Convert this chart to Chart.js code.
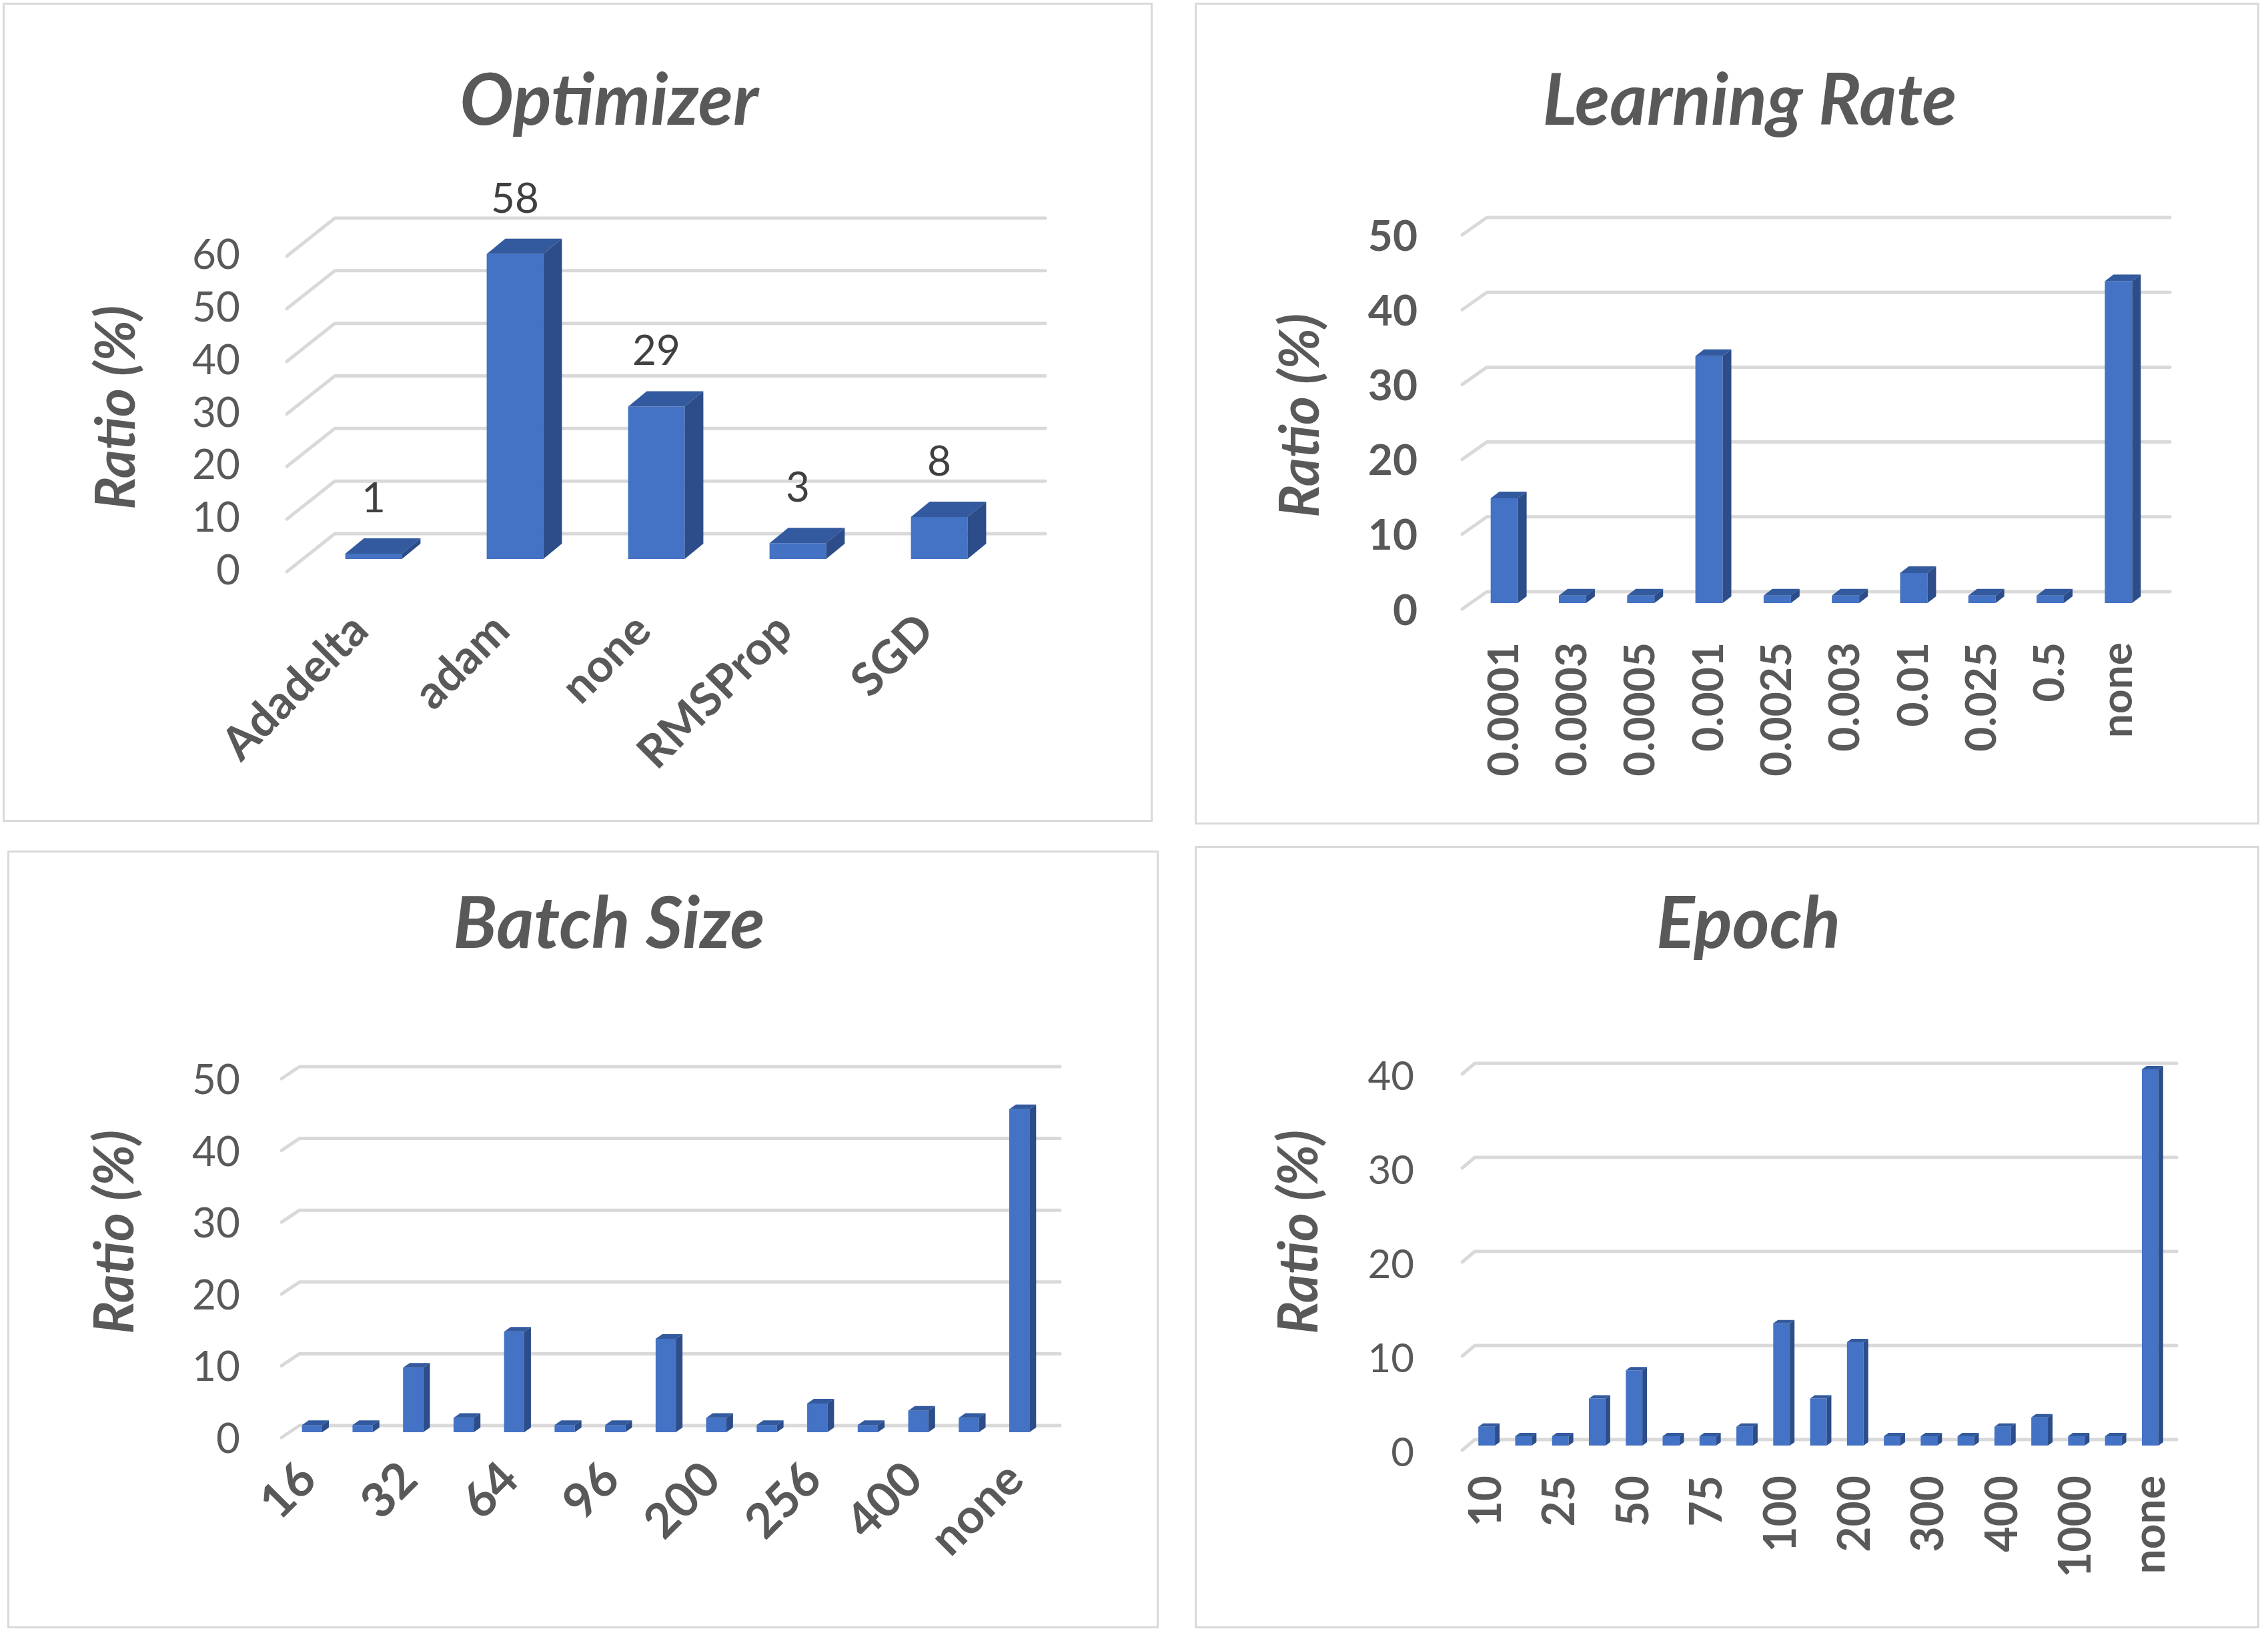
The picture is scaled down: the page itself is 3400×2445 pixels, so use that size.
<!DOCTYPE html>
<html>
<head>
<meta charset="utf-8">
<script src="https://cdn.jsdelivr.net/npm/chart.js@4.4.0/dist/chart.umd.min.js"></script>
<style>
	body { margin: 0; background: #fff; width: 3400px; height: 2445px; position: relative; overflow: hidden; }
	.frame { position: absolute; box-sizing: border-box; border: 3px solid #d9d9d9; }
	canvas { position: absolute; }
</style>
</head>
<body>
<script>
// chart values
const optimizerLabels = ["Adadelta", "adam", "none", "RMSProp", "SGD"];
const optimizerValues = [1, 58, 29, 3, 8];

const lrLabels = ["0.0001", "0.0003", "0.0005", "0.001", "0.0025", "0.003", "0.01", "0.025", "0.5", "none"];
const lrValues = [14, 1, 1, 33, 1, 1, 4, 1, 1, 43];

// every other label is hidden in the picture, the hidden names are guesses
const batchLabels = ["16", "20", "32", "50", "64", "80", "96", "128", "200", "250", "256", "300", "400", "500", "none"];
const batchValues = [1, 1, 9, 2, 14, 1, 1, 13, 2, 1, 4, 1, 3, 2, 45];

const epochLabels = ["10", "20", "25", "30", "50", "60", "75", "80", "100", "150", "200", "250", "300", "350", "400", "500", "1000", "2000", "none"];
const epochValues = [2, 1, 1, 5, 8, 1, 1, 2, 13, 5, 11, 1, 1, 1, 2, 3, 1, 1, 40];

const FRONT = "#4472C4", TOP = "#335A9E", SIDE = "#2C4D89";
const GRID = "#d9d9d9", TEXT = "#595959", FONT = "Lato";

// floor + back wall lines of the 3d column chart
const grid3d = {
	id: "grid3d",
	beforeDatasetsDraw(chart, args, o) {
		const ctx = chart.ctx, ys = chart.scales.y;
		ctx.save();
		ctx.strokeStyle = GRID;
		ctx.lineWidth = 5;
		ctx.lineCap = "round";
		ctx.lineJoin = "round";
		ys.ticks.forEach(t => {
			const y = ys.getPixelForValue(t.value);
			ctx.beginPath();
			ctx.moveTo(o.fx, y + o.fo);
			ctx.lineTo(o.bx, y + o.bo);
			ctx.lineTo(o.ex, y + o.bo);
			ctx.stroke();
		});
		ctx.restore();
	}
};

// top and side faces of each column, plus value labels
const bars3d = {
	id: "bars3d",
	afterDatasetsDraw(chart, args, o) {
		const ctx = chart.ctx;
		const meta = chart.getDatasetMeta(0);
		const values = chart.data.datasets[0].data;
		ctx.save();
		meta.data.forEach((bar, i) => {
			const p = bar.getProps(["x", "y", "base", "width"], true);
			const l = p.x - p.width / 2, r = p.x + p.width / 2;
			ctx.fillStyle = TOP;
			ctx.beginPath();
			ctx.moveTo(l, p.y);
			ctx.lineTo(l + o.dx, p.y - o.dy);
			ctx.lineTo(r + o.dx, p.y - o.dy);
			ctx.lineTo(r, p.y);
			ctx.closePath();
			ctx.fill();
			ctx.fillStyle = SIDE;
			ctx.beginPath();
			ctx.moveTo(r, p.y);
			ctx.lineTo(r + o.dx, p.y - o.dy);
			ctx.lineTo(r + o.dx, p.base - o.dy);
			ctx.lineTo(r, p.base);
			ctx.closePath();
			ctx.fill();
			if (o.showValues) {
				ctx.fillStyle = "#404040";
				ctx.font = "62px " + FONT;
				ctx.textAlign = "center";
				ctx.textBaseline = "middle";
				ctx.fillText(String(values[i]), p.x, p.y - o.gap);
			}
		});
		ctx.restore();
	}
};

// chart title and rotated y axis title
const titles = {
	id: "titles",
	afterDraw(chart, args, o) {
		const ctx = chart.ctx;
		ctx.save();
		ctx.fillStyle = TEXT;
		ctx.textAlign = "center";
		ctx.textBaseline = "middle";
		ctx.font = "italic bold 107px " + FONT;
		ctx.fillText(o.title, o.tx, o.ty);
		ctx.translate(o.ax, o.ay);
		ctx.rotate(-Math.PI / 2);
		ctx.font = "italic bold 82px " + FONT;
		ctx.fillText("Ratio (%)", 0, 0);
		ctx.restore();
	}
};

function makePanel(p) {
	const frame = document.createElement("div");
	frame.className = "frame";
	Object.assign(frame.style, { left: p.x + "px", top: p.y + "px", width: p.w + "px", height: p.h + "px" });
	document.body.appendChild(frame);

	const cv = document.createElement("canvas");
	cv.width = p.w;
	cv.height = p.h;
	cv.style.left = p.x + "px";
	cv.style.top = p.y + "px";
	document.body.appendChild(cv);

	const a = p.area;

	return new Chart(cv, {
		type: "bar",
		data: {
			labels: p.labels,
			datasets: [{
				data: p.values,
				backgroundColor: FRONT,
				barPercentage: p.barPct,
				categoryPercentage: 1
			}]
		},
		options: {
			responsive: false,
			animation: false,
			devicePixelRatio: 1,
			layout: { padding: { left: 0, right: p.w - a.right, top: a.top, bottom: 0 } },
			plugins: {
				legend: { display: false },
				tooltip: { enabled: false },
				title: { display: false },
				grid3d: p.grid,
				bars3d: { dx: p.depth[0], dy: p.depth[1], showValues: !!p.showValues, gap: 82 },
				titles: { title: p.title, tx: p.titleX, ty: p.titleY, ax: p.axisTitle[0], ay: p.axisTitle[1] }
			},
			scales: {
				x: {
					grid: { display: false, drawTicks: false },
					border: { display: false },
					afterFit: s => { s.height = p.h - a.bottom; },
					ticks: {
						autoSkip: false,
						minRotation: p.rot,
						maxRotation: p.rot,
						padding: p.xPad,
						labelOffset: p.xOff,
						color: TEXT,
						font: { family: FONT, size: p.xFont, weight: "bold" },
						callback: function (v, i) {
							return i % p.every === 0 ? this.getLabelForValue(v) : "";
						}
					}
				},
				y: {
					min: 0,
					max: p.ymax,
					grid: { display: false, drawTicks: false },
					border: { display: false },
					afterFit: s => { s.width = a.left; },
					ticks: {
						stepSize: 10,
						padding: p.yPad,
						labelOffset: p.yOff,
						color: TEXT,
						font: { family: FONT, size: p.yFont, weight: p.yBold ? "bold" : "normal" }
					}
				}
			}
		},
		plugins: [grid3d, bars3d, titles]
	});
}

makePanel({
	title: "Optimizer", labels: optimizerLabels, values: optimizerValues,
	x: 4, y: 4, w: 1724, h: 1228,
	area: { left: 450, right: 1510, top: 361, bottom: 834 }, ymax: 60,
	titleX: 909, titleY: 148,
	grid: { fx: 426, bx: 498, ex: 1563, fo: 19, bo: -38 },
	depth: [28, 23], barPct: 0.4, showValues: true,
	yPad: 94, yOff: 18, yFont: 62, yBold: false,
	xFont: 69, rot: 45, xPad: 66, xOff: -20, every: 1,
	axisTitle: [172, 607]
});

makePanel({
	title: "Learning Rate", labels: lrLabels, values: lrValues,
	x: 1791, y: 4, w: 1596, h: 1232,
	area: { left: 413, right: 1436, top: 339, bottom: 900 }, ymax: 50,
	titleX: 832, titleY: 148,
	grid: { fx: 401, bx: 438, ex: 1462, fo: 9, bo: -17 },
	depth: [13, 10], barPct: 0.4,
	yPad: 79, yOff: 12, yFont: 64, yBold: true,
	xFont: 64, rot: 90, xPad: 59, xOff: 0, every: 1,
	axisTitle: [160, 619]
});

makePanel({
	title: "Batch Size", labels: batchLabels, values: batchValues,
	x: 11, y: 1275, w: 1726, h: 1166,
	area: { left: 419, right: 1555, top: 334, bottom: 872 }, ymax: 50,
	titleX: 902, titleY: 111,
	grid: { fx: 411, bx: 438, ex: 1578, fo: 8, bo: -10 },
	depth: [10, 7], barPct: 0.4,
	yPad: 70, yOff: 11, yFont: 62, yBold: false,
	xFont: 72, rot: 45, xPad: 28, xOff: -6, every: 2,
	axisTitle: [163, 572]
});

makePanel({
	title: "Epoch", labels: epochLabels, values: epochValues,
	x: 1791, y: 1268, w: 1596, h: 1173,
	area: { left: 410, right: 1460, top: 335, bottom: 899 }, ymax: 40,
	titleX: 830, titleY: 118,
	grid: { fx: 401, bx: 420, ex: 1472, fo: 7, bo: -9 },
	depth: [7, 5], barPct: 0.45,
	yPad: 81, yOff: 12, yFont: 60, yBold: false,
	xFont: 66, rot: 90, xPad: 45, xOff: 0, every: 2,
	axisTitle: [158, 579]
});
</script>
</body>
</html>
